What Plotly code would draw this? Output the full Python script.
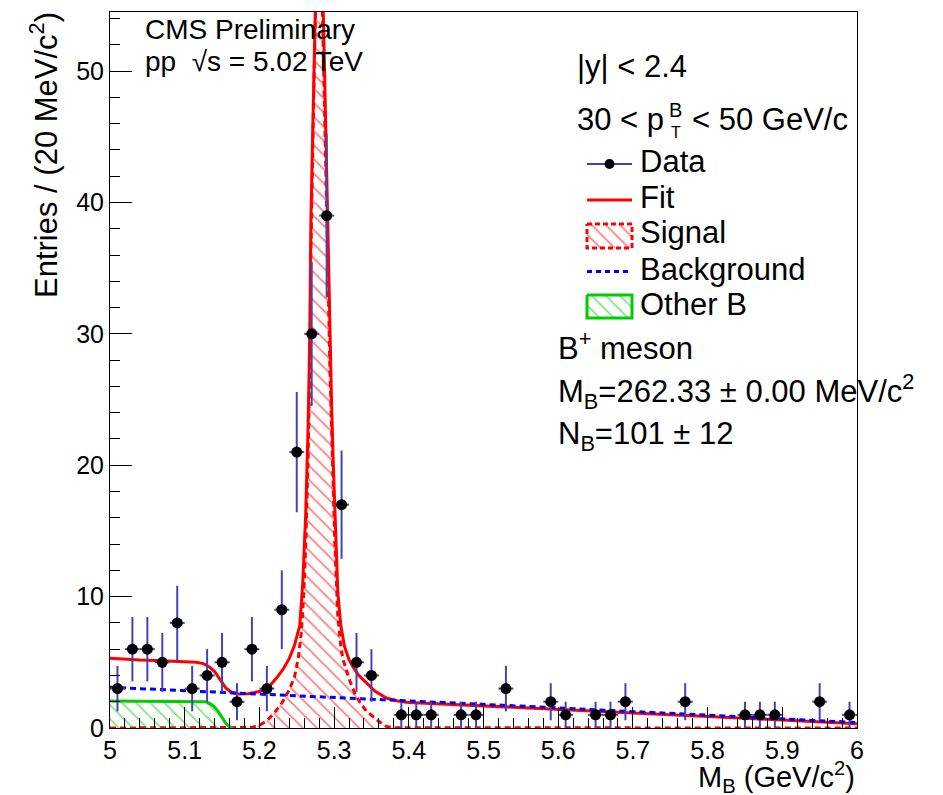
import plotly.graph_objects as go

# ---------------- data ----------------
# data histogram (20 MeV bins, non-empty bins only)
bin_centers = [5.01, 5.03, 5.05, 5.07, 5.09, 5.11, 5.13, 5.15, 5.17, 5.19, 5.21, 5.23,
               5.25, 5.27, 5.29, 5.31, 5.33, 5.35, 5.39, 5.41, 5.43, 5.47, 5.49, 5.53,
               5.59, 5.61, 5.65, 5.67, 5.69, 5.77, 5.85, 5.87, 5.89, 5.95, 5.99]
counts = [3, 6, 6, 5, 8, 3, 4, 5, 2, 6, 3, 9,
          21, 30, 39, 17, 5, 4, 1, 1, 1, 1, 1, 3,
          2, 1, 1, 1, 2, 2, 1, 1, 1, 2, 1]
count_err = [1.73, 2.45, 2.45, 2.24, 2.83, 1.73, 2.00, 2.24, 1.41, 2.45, 1.73, 3.00,
             4.58, 5.48, 6.24, 4.12, 2.24, 2.00, 1.00, 1.00, 1.00, 1.00, 1.00, 1.73,
             1.41, 1.00, 1.00, 1.00, 1.41, 1.41, 1.00, 1.00, 1.00, 1.41, 1.00]
half_bin = [0.01] * len(bin_centers)

# total fit curve
fit_x = [5.000, 5.020, 5.040, 5.060, 5.080, 5.100, 5.115, 5.125, 5.133, 5.140, 5.147,
         5.155, 5.163, 5.172, 5.185, 5.200, 5.212, 5.223, 5.232, 5.240, 5.247, 5.254,
         5.258, 5.262, 5.2652, 5.2675, 5.2690, 5.2710, 5.2740, 5.2770, 5.2800, 5.2830,
         5.2855, 5.2885, 5.2912, 5.2943, 5.2965, 5.2990, 5.3010, 5.3050, 5.3090, 5.3140,
         5.3200, 5.3250, 5.3330, 5.3430, 5.3550, 5.3700, 5.3850, 5.4000, 5.5, 5.6, 5.7,
         5.8, 5.9, 6.0]
fit_y = [5.30, 5.22, 5.17, 5.13, 5.10, 5.05, 5.00, 4.90, 4.65, 4.30, 3.75,
         3.05, 2.70, 2.58, 2.60, 2.78, 3.10, 3.80, 4.50, 5.30, 6.30, 7.80,
         11.0, 16.3, 23.0, 30.0, 38.9, 46.0, 54.6, 60.5, 62.5, 60.5,
         54.6, 46.0, 38.9, 30.0, 25.0, 20.0, 16.4, 10.3, 7.8, 6.2,
         5.2, 4.68, 4.0, 3.42, 2.80, 2.28, 2.05, 1.95, 1.70, 1.42, 1.15,
         0.88, 0.60, 0.33]

# signal component
sig_x = [5.000, 5.180, 5.190, 5.200, 5.210, 5.220, 5.230, 5.240, 5.247, 5.252, 5.256,
         5.259, 5.262, 5.2652, 5.2675, 5.2690, 5.2710, 5.2740, 5.2770, 5.2800, 5.2830,
         5.2855, 5.2885, 5.2912, 5.2943, 5.2965, 5.2990, 5.3010, 5.3050, 5.3090, 5.3120,
         5.3170, 5.3210, 5.3280, 5.3340, 5.3430, 5.3520, 5.3600, 5.3700, 5.3800, 6.000]
sig_y = [0.0, 0.0, 0.05, 0.20, 0.55, 1.15, 1.90, 2.90, 3.90, 5.30, 7.20,
         9.80, 13.8, 20.5, 27.5, 36.4, 43.5, 52.0, 58.0, 60.0, 58.0,
         52.0, 43.5, 36.4, 27.5, 22.5, 17.5, 14.0, 8.5, 6.2, 5.2,
         4.2, 3.6, 2.6, 2.0, 1.3, 0.85, 0.5, 0.12, 0.02, 0.0]

# combinatorial background
bg_x = [5.0, 5.1, 5.2, 5.3, 5.4, 5.5, 5.6, 5.7, 5.8, 5.9, 6.0]
bg_y = [3.10, 2.85, 2.60, 2.33, 2.06, 1.80, 1.53, 1.25, 0.97, 0.70, 0.42]

# other B (partially reconstructed) component
ob_x = [5.000, 5.120, 5.128, 5.135, 5.140, 5.145, 5.150, 5.155, 5.160, 5.165]
ob_y = [2.05, 2.05, 2.00, 1.82, 1.60, 1.25, 0.80, 0.35, 0.08, 0.0]

legend_labels = ["Data", "Fit", "Signal", "Background", "Other B"]

# ---------------- layout helpers ----------------
W, H = 943, 795
L, R, T, B = 110, 86, 12, 67
PW, PH = W - L - R, H - T - B


def px(xp):
    return (xp - L) / PW


def py(yp):
    return (H - B - yp) / PH


FONT = "Liberation Sans, Arial, Helvetica, sans-serif"
TXT = 31
RED = "#ff0000"
BLUE = "#0000ff"
GREEN = "#00cc00"
ERRBLUE = "#4343b4"
HATCH = dict(shape="\\", size=10, solidity=0.18, fillmode="overlay")

fig = go.Figure()

# signal (hatched)
fig.add_trace(go.Scatter(
    x=sig_x, y=sig_y, mode="lines", showlegend=False,
    line=dict(color=RED, width=3, dash="6px,4px"),
    fill="tozeroy", fillcolor="rgba(0,0,0,0)",
    fillpattern=dict(fgcolor=RED, **HATCH),
))
# other B (hatched)
fig.add_trace(go.Scatter(
    x=ob_x, y=ob_y, mode="lines", showlegend=False,
    line=dict(color=GREEN, width=3),
    fill="tozeroy", fillcolor="rgba(0,0,0,0)",
    fillpattern=dict(fgcolor=GREEN, **HATCH),
))
# fit
fig.add_trace(go.Scatter(x=fit_x, y=fit_y, mode="lines", showlegend=False,
                         line=dict(color=RED, width=3)))
# background
fig.add_trace(go.Scatter(x=bg_x, y=bg_y, mode="lines", showlegend=False,
                         line=dict(color=BLUE, width=3, dash="6px,4px")))
# data
fig.add_trace(go.Scatter(
    x=bin_centers, y=counts, mode="markers", showlegend=False,
    marker=dict(color="black", size=11),
    error_y=dict(type="data", array=count_err, color=ERRBLUE, thickness=2, width=0),
    error_x=dict(type="data", array=half_bin, color=ERRBLUE, thickness=2, width=0),
))

# ---------------- legend (drawn on an overlay frame in plot-fraction units) ----------------
def fx(xp):
    return (xp - L) / PW


def fy(yp):
    return (H - B - yp) / PH


KX0, KX1 = 587, 632
rows = [164, 200, 236, 271.5, 306.5]
text_rows = [162, 197.5, 233, 269, 304.5]
k2 = dict(xaxis="x2", yaxis="y2", showlegend=False, hoverinfo="skip")
# Data key
fig.add_trace(go.Scatter(x=[fx(KX0), fx(KX1)], y=[fy(rows[0])] * 2, mode="lines",
                         line=dict(color="#0000a0", width=1.5), **k2))
fig.add_trace(go.Scatter(x=[fx((KX0 + KX1) / 2)], y=[fy(rows[0])], mode="markers",
                         marker=dict(color="black", size=10), **k2))
# Fit key
fig.add_trace(go.Scatter(x=[fx(KX0), fx(KX1)], y=[fy(rows[1])] * 2, mode="lines",
                         line=dict(color=RED, width=3), **k2))
# Signal key
s_top, s_bot = 224, 248
fig.add_trace(go.Scatter(x=[fx(KX0), fx(KX1), fx(KX1), fx(KX0), fx(KX0)],
                         y=[fy(s_top), fy(s_top), fy(s_bot), fy(s_bot), fy(s_top)],
                         mode="lines", fill="toself", fillcolor="rgba(0,0,0,0)",
                         fillpattern=dict(fgcolor=RED, **HATCH),
                         line=dict(color=RED, width=3, dash="5px,3px"), **k2))
# Background key
fig.add_trace(go.Scatter(x=[fx(KX0), fx(KX1)], y=[fy(rows[3])] * 2, mode="lines",
                         line=dict(color=BLUE, width=3, dash="5px,4px"), **k2))
# Other B key
o_top, o_bot = 295, 318
fig.add_trace(go.Scatter(x=[fx(KX0), fx(KX1), fx(KX1), fx(KX0), fx(KX0)],
                         y=[fy(o_top), fy(o_top), fy(o_bot), fy(o_bot), fy(o_top)],
                         mode="lines", fill="toself", fillcolor="rgba(0,0,0,0)",
                         fillpattern=dict(fgcolor=GREEN, **HATCH),
                         line=dict(color=GREEN, width=3), **k2))

axis_common = dict(
    showline=True, linecolor="black", linewidth=1, mirror=True,
    ticks="inside", tickcolor="black", tickwidth=1,
    showgrid=False, zeroline=False,
    tickfont=dict(size=25, family=FONT, color="black"),
)
fig.update_xaxes(range=[5, 6], tick0=5, dtick=0.1, ticklen=21,
                 minor=dict(dtick=0.02, ticks="inside", ticklen=10, tickcolor="black", showgrid=False),
                 **axis_common)
fig.update_yaxes(range=[0, 54.5], tick0=0, dtick=10, ticklen=22,
                 minor=dict(dtick=2, ticks="inside", ticklen=10, tickcolor="black", showgrid=False),
                 **axis_common)

ann = []


def text(s, xpx, ypx, size=TXT, xanchor="left", yanchor="middle", angle=0):
    ann.append(dict(text=s, x=px(xpx), y=py(ypx), xref="paper", yref="paper",
                    xanchor=xanchor, yanchor=yanchor, showarrow=False, textangle=angle,
                    font=dict(size=size, family=FONT, color="black")))


text("CMS Preliminary", 143, 29.5, size=28)
text("pp  \u221as = 5.02 TeV", 143, 62, size=28)
text("|y| < 2.4", 575, 66.5)
text("30 < p", 575, 119)
text("B", 667, 110, size=20)
text("T", 669, 132, size=16)
text("< 50 GeV/c", 690, 119)
text("B<sup>+</sup> meson", 556, 346)
text("M<sub>B</sub>=262.33 \u00b1 0.00 MeV/c<sup>2</sup>", 556, 391)
text("N<sub>B</sub>=101 \u00b1 12", 556, 436)
for lab, yy in zip(legend_labels, text_rows):
    text(lab, 638, yy)
# axis titles
text("M<sub>B</sub> (GeV/c<sup>2</sup>)", 857, 755, size=29, xanchor="right", yanchor="top")
text("Entries / (20 MeV/c<sup>2</sup>)", 44, 10, xanchor="center", yanchor="top", angle=-90)

fig.update_layout(
    width=W, height=H,
    margin=dict(l=L, r=R, t=T, b=B, pad=0),
    plot_bgcolor="white", paper_bgcolor="white",
    font=dict(family=FONT, color="black"),
    annotations=ann,
    showlegend=False,
    xaxis2=dict(overlaying="x", range=[0, 1], visible=False, fixedrange=True),
    yaxis2=dict(overlaying="y", range=[0, 1], visible=False, fixedrange=True),
)

fig.write_html("out.html", config={"displayModeBar": False},
               post_script="document.body.style.margin='0px';")
